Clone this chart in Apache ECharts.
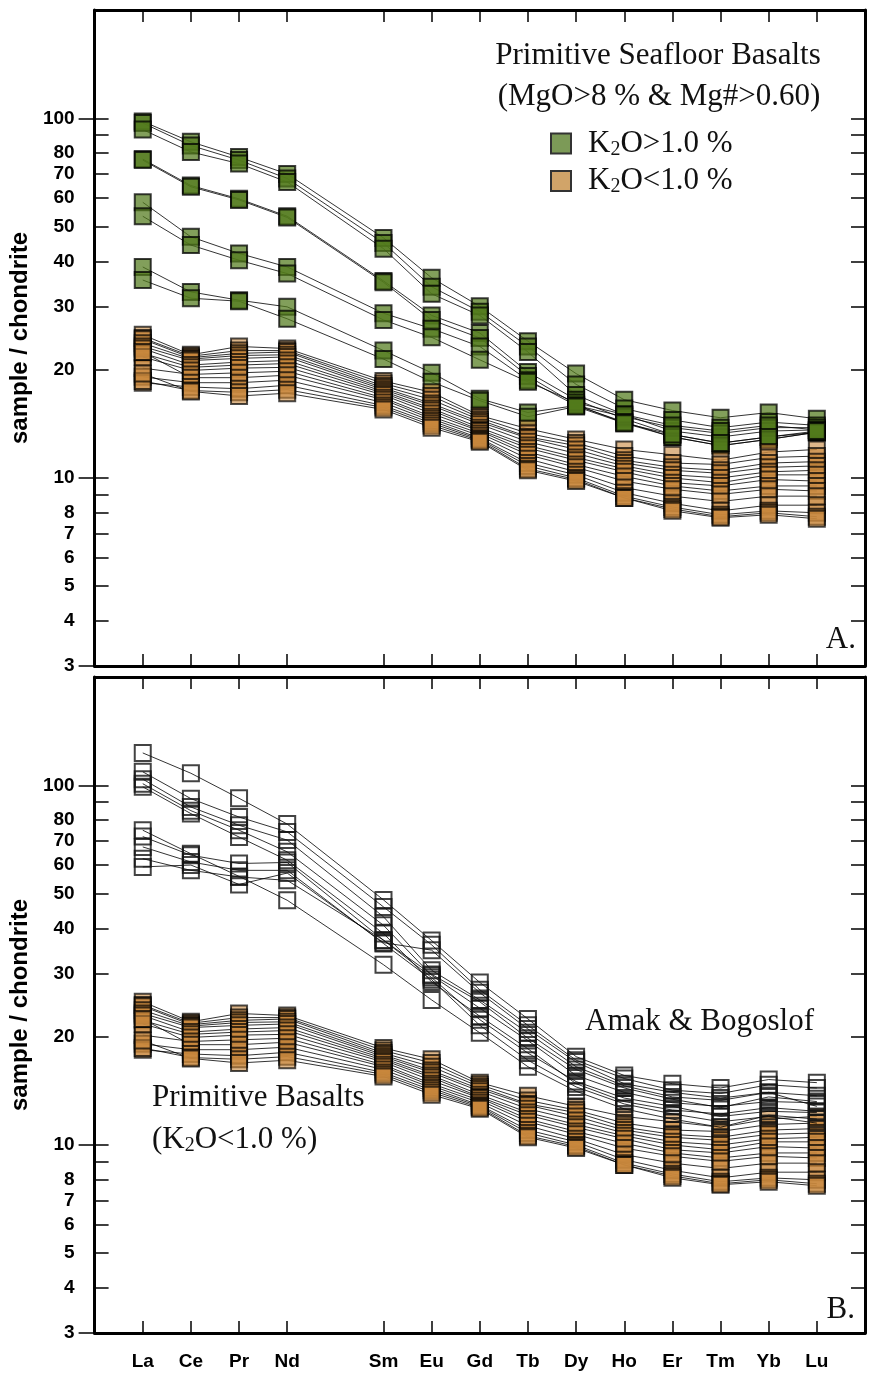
<!DOCTYPE html>
<html><head><meta charset="utf-8">
<script src="https://cdn.jsdelivr.net/npm/echarts/dist/echarts.min.js"></script>
<style>html,body{margin:0;padding:0;background:#fff}#c{width:870px;height:1373px}</style>
</head><body><div id="c"></div>
<script>
// ---- data ----
const elements = ['La','Ce','Pr','Nd','Sm','Eu','Gd','Tb','Dy','Ho','Er','Tm','Yb','Lu'];
const elementPos = [0,1,2,3,5,6,7,8,9,10,11,12,13,14]; // Pm (4) left empty
const yLabelTicks = [3,4,5,6,7,8,10,20,30,40,50,60,70,80,100];
const yMinorTicks = [4,5,6,7,8,9,20,30,40,50,60,70,80,90];
const yMajorTicks = [3,10,100];

// Primitive seafloor basalts, K2O > 1.0 %
const seafloorHighK = [
  [98, 86, 78, 70, 46.5, 36, 30, 24, 19.5, 16.5, 15.4, 14.7, 15.2, 14.6],
  [97, 84, 76.5, 68, 45, 34, 29, 23.2, 18.2, 15.6, 14.5, 13.8, 14.3, 14.0],
  [93, 80.6, 74.8, 66.5, 43.4, 32.5, 28.3, 22.4, 17, 15, 13.5, 13, 13.5, 13.6],
  [77, 65, 59.7, 53.4, 35.3, 28.3, 25.3, 19.7, 16.5, 14.6, 13.2, 12.5, 13.0, 13.4],
  [76.5, 64.5, 59.3, 53, 35, 27.5, 24.5, 19.2, 16, 14.2, 13, 12.3, 12.8, 13.4],
  [58.4, 46.8, 42.1, 38.6, 28.7, 26, 23.2, 18.7, 15.9, 14.8, 13.8, 13.3, 13.8, 13.8],
  [53.4, 44.4, 40.3, 37.0, 27.5, 24.6, 21.3, 18.5, 16.2, 15, 14, 13.5, 14, 13.6],
  [38.6, 32.9, 31.2, 29.9, 22.6, 19.6, 16.6, 15.2, 15.9, 14.3, 13.0, 12.3, 12.8, 13.4],
  [35.5, 31.6, 31, 27.7, 21.4, 18.5, 16.4, 14.8, 15.8, 14.2, 13.2, 12.5, 13, 13.5]
];
// Primitive basalts, K2O < 1.0 %
const seafloorLowK = [
  [25.0, 22.0, 23.2, 22.9, 18.6, 17.3, 14.9, 13.7, 12.8, 12.0, 11.6, 11.2, 11.8, 12.0],
  [24.5, 21.8, 22.6, 22.6, 18.3, 16.9, 14.7, 13.3, 12.5, 11.5, 11.0, 10.9, 11.4, 11.5],
  [24.3, 21.6, 22.2, 22.4, 18.0, 16.5, 14.5, 13.0, 12.3, 11.2, 10.7, 10.5, 11.0, 11.1],
  [23.7, 21.4, 21.9, 22.0, 17.8, 16.1, 14.3, 12.9, 12.0, 11.0, 10.5, 10.3, 10.7, 10.8],
  [23.2, 21.2, 21.5, 21.7, 17.6, 15.9, 14.1, 12.6, 11.7, 10.8, 10.2, 10.0, 10.4, 10.5],
  [22.9, 20.6, 21.0, 21.2, 17.4, 15.6, 13.8, 12.3, 11.4, 10.6, 10.0, 9.7, 10.2, 10.2],
  [22.2, 20.3, 20.6, 20.8, 17.2, 15.4, 13.6, 12.1, 11.2, 10.4, 9.7, 9.5, 9.9, 9.8],
  [21.7, 19.9, 20.2, 20.3, 17.0, 15.1, 13.5, 11.8, 10.9, 10.1, 9.5, 9.2, 9.5, 9.5],
  [20.2, 19.4, 19.6, 19.8, 16.7, 14.8, 13.3, 11.6, 10.7, 9.8, 9.3, 9.0, 9.3, 9.2],
  [22.4, 19.0, 19.0, 19.3, 16.5, 14.6, 13.1, 11.3, 10.4, 9.4, 8.9, 8.6, 8.9, 8.9],
  [19.1, 18.4, 18.4, 18.7, 16.2, 14.4, 12.9, 11.0, 10.2, 9.1, 8.5, 8.1, 8.4, 8.4],
  [18.4, 17.9, 17.7, 18.1, 15.9, 14.2, 12.8, 10.8, 10.0, 8.9, 8.3, 7.9, 8.1, 8.0],
  [18.6, 17.5, 17.3, 17.6, 15.7, 14.0, 12.7, 10.6, 9.9, 8.8, 8.2, 7.8, 8.0, 7.8],
  [19.5, 17.4, 16.9, 17.2, 15.5, 13.8, 12.6, 10.5, 9.8, 8.8, 8.1, 7.75, 7.9, 7.7]
];
// Amak & Bogoslof
const amakBogoslof = [
  [123, 108, 92, 78, 48, 37, 28.3, 22.4, 17.6, 15.6, 14.8, 14.4, 15.2, 14.9],
  [109, 91.8, 81.6, 74.2, 45.9, 36, 27, 21.5, 17.2, 15.3, 14.2, 13.9, 14.7, 14.4],
  [104, 87, 77.4, 70.4, 43.1, 30.6, 25.3, 20.5, 16.5, 14.6, 13.6, 13.3, 14.0, 13.7],
  [101, 85, 75, 65.3, 40.8, 29.6, 24, 19.5, 15.6, 14.0, 13.1, 12.8, 13.2, 13.1],
  [99, 83.4, 71.8, 61.9, 38.7, 28.4, 22.8, 18.5, 14.8, 13.2, 12.5, 12.2, 12.7, 12.4],
  [75, 64.5, 55.8, 47.9, 31.7, 25.3, 20.5, 16.5, 14.1, 12.6, 11.8, 11.2, 12.1, 11.8],
  [72, 63.9, 60.6, 61, 37.1, 29.8, 25, 19.8, 16.2, 14.4, 13.4, 12.7, 13.6, 13.2],
  [67.4, 61.2, 58, 58, 36.3, 28.8, 21.5, 17.2, 14.5, 13.0, 12.2, 11.6, 12.0, 11.5],
  [62.5, 58, 55.6, 54.4, 37.1, 29.2, 22.3, 18, 15.0, 13.5, 12.8, 12.0, 12.4, 12.3],
  [59.3, 60, 53, 57, 36.5, 34.8, 26.5, 21, 17.0, 14.8, 14.0, 13.5, 14.0, 12.8]
];

// ---- chart ----
const chart = echarts.init(document.getElementById('c'), null, {renderer:'canvas'});
const SANS = 'Liberation Sans, Arial, sans-serif';
const SERIF = 'Liberation Serif, Times New Roman, serif';
const grids = [
  {left:93, top:10, width:772, height:656},
  {left:93, top:677, width:772, height:656}
];
const lineW = 3;
function xAxes(gi, showLabels) {
  const base = {type:'value', gridIndex:gi, min:-1, max:15, interval:1,
    axisLine:{show:true, onZero:false, lineStyle:{color:'#000', width:lineW}},
    splitLine:{show:false}};
  return [
    Object.assign({}, base, {position:'bottom',
      axisTick:{show:true, inside:true, length:12, customValues:elementPos, lineStyle:{color:'#000', width:1.5}},
      axisLabel:{show:showLabels, customValues:elementPos, margin:19,
        formatter:v=>elements[elementPos.indexOf(Math.round(v))]||'',
        fontFamily:SANS, fontWeight:'bold', fontSize:19, color:'#000'}}),
    Object.assign({}, base, {position:'top',
      axisTick:{show:true, inside:true, length:12, customValues:elementPos, lineStyle:{color:'#000', width:1.5}},
      axisLabel:{show:false}})
  ];
}
function yAxes(gi) {
  const base = {type:'log', logBase:10, gridIndex:gi, min:3, max:200, splitLine:{show:false}};
  return [
    Object.assign({}, base, {position:'left',
      axisLine:{show:true, onZero:false, lineStyle:{color:'#000', width:lineW}},
      axisTick:{show:true, inside:true, length:14, customValues:yMinorTicks.concat([10,100]), lineStyle:{color:'#000', width:1.5}},
      axisLabel:{show:true, customValues:yLabelTicks, margin:20, fontFamily:SANS, fontWeight:'bold', fontSize:19, color:'#000'},
      name:'sample / chondrite', nameLocation:'middle', nameGap:59,
      nameTextStyle:{fontFamily:SANS, fontWeight:'bold', fontSize:24, color:'#000'}}),
    Object.assign({}, base, {position:'left',
      axisLine:{show:false, onZero:false},
      axisTick:{show:true, inside:false, length:16, customValues:yMajorTicks, lineStyle:{color:'#000', width:1.5}},
      axisLabel:{show:false}}),
    Object.assign({}, base, {position:'right',
      axisLine:{show:true, onZero:false, lineStyle:{color:'#000', width:lineW}},
      axisTick:{show:true, inside:true, length:14, customValues:yMinorTicks.concat([10,100]), lineStyle:{color:'#000', width:1.5}},
      axisLabel:{show:false}})
  ];
}
const greenStyle = {color:'rgba(82,122,28,0.72)', borderColor:'rgba(0,0,0,0.75)', borderWidth:2};
const orangeStyle = {color:'rgba(200,135,60,0.6)', borderColor:'rgba(0,0,0,0.7)', borderWidth:2};
const whiteStyle = {color:'rgba(255,255,255,0)', borderColor:'rgba(20,20,20,0.8)', borderWidth:2};
function mk(rows, name, xi, yi, style, z) {
  return rows.map(r => ({
    type:'line', name:name, xAxisIndex:xi, yAxisIndex:yi, z:z,
    data:r.map((v,i)=>[elementPos[i], v]),
    symbol:'rect', symbolSize:16, showSymbol:true,
    lineStyle:{color:'#000', width:0.8}, itemStyle:style,
    emphasis:{disabled:true}, silent:true, animation:false
  }));
}
const series = [].concat(
  mk(seafloorHighK, 'hi', 0, 0, greenStyle, 2),
  mk(seafloorLowK, 'lo', 0, 0, orangeStyle, 3),
  mk(seafloorLowK, 'lo', 2, 3, orangeStyle, 2),
  mk(amakBogoslof, 'ab', 2, 3, whiteStyle, 3)
);
const richT = {
  p:{width:12},
  a:{fontFamily:SERIF, fontSize:31, color:'#111'},
  s:{fontFamily:SERIF, fontSize:20, color:'#111', padding:[12,0,0,0]}
};
chart.setOption({
  animation:false,
  backgroundColor:'#fff',
  grid:grids,
  xAxis:[].concat(xAxes(0,false), xAxes(1,true)),
  yAxis:[].concat(yAxes(0), yAxes(1)),
  legend:{
    data:[{name:'hi', itemStyle:{color:'#7c9a57', borderColor:'#333', borderWidth:2}},
          {name:'lo', itemStyle:{color:'#d1a469', borderColor:'#333', borderWidth:2}}],
    orient:'vertical', left:545, top:123, itemWidth:20, itemHeight:20, itemGap:6,
    icon:'rect', selectedMode:false,
    formatter:n => n==='hi' ? '{p|}{a|K}{s|2}{a|O>1.0 %}' : '{p|}{a|K}{s|2}{a|O<1.0 %}',
    textStyle:{rich:richT}
  },
  graphic:[
    {type:'text', style:{text:'Primitive Seafloor Basalts', x:658, y:56, textAlign:'center', textVerticalAlign:'middle', font:'31px '+SERIF, fill:'#111'}},
    {type:'text', style:{text:'(MgO>8 % & Mg#>0.60)', x:659, y:97, textAlign:'center', textVerticalAlign:'middle', font:'31px '+SERIF, fill:'#111'}},
    {type:'text', style:{text:'A.', x:856, y:640, textAlign:'right', textVerticalAlign:'middle', font:'31px '+SERIF, fill:'#111'}},
    {type:'text', style:{text:'B.', x:855, y:1310, textAlign:'right', textVerticalAlign:'middle', font:'31px '+SERIF, fill:'#111'}},
    {type:'text', style:{text:'Amak & Bogoslof', x:585, y:1022, textAlign:'left', textVerticalAlign:'middle', font:'31px '+SERIF, fill:'#111'}},
    {type:'text', style:{text:'Primitive Basalts', x:152, y:1098, textAlign:'left', textVerticalAlign:'middle', font:'31px '+SERIF, fill:'#111'}},
    {type:'text', style:{text:'{a|(K}{s|2}{a|O<1.0 %)}', x:152, y:1140, textAlign:'left', textVerticalAlign:'middle', rich:richT, fill:'#111'}}
  ],
  series:series
});
</script></body></html>
